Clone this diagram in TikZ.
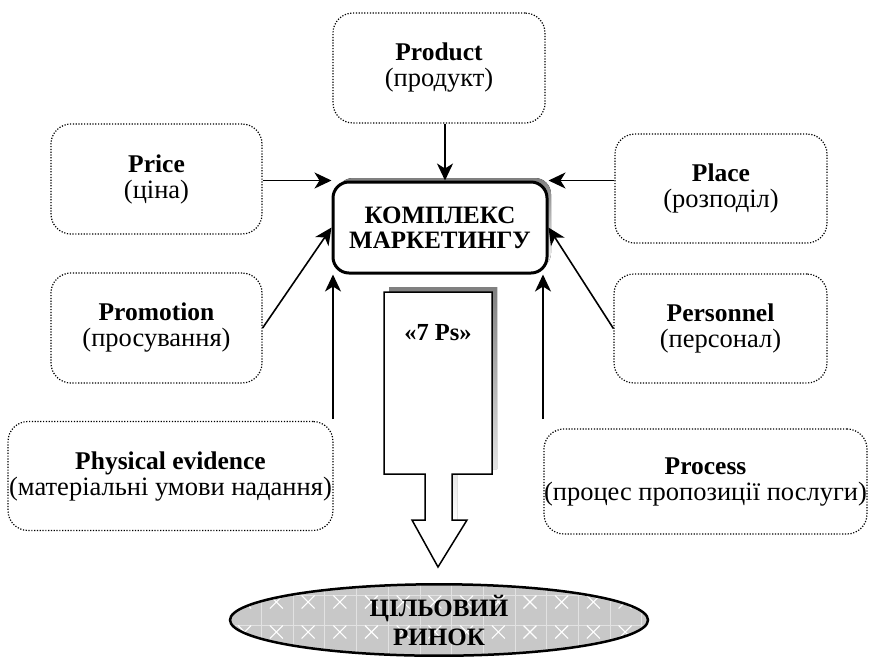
\documentclass[tikz,border=0pt]{standalone}
\usepackage{fontspec}
\setmainfont{Liberation Serif}
\usetikzlibrary{arrows.meta,shapes.geometric}
\definecolor{shade}{HTML}{808080}
\definecolor{market}{HTML}{C8C8C8}
\definecolor{grid}{HTML}{E2E2E2}
\newcommand{\pname}[1]{{\fontsize{25.5}{26}\selectfont\bfseries #1}}

\begin{document}
\begin{tikzpicture}[x=1pt,y=-1pt,>={Stealth[length=17pt,width=16pt,inset=5pt]}]
  \tikzstyle{fact}=[rectangle,rounded corners=20pt,draw=black,line width=1.2pt,dash pattern=on 1.2pt off 1.6pt,align=center,inner sep=0pt,font=\fontsize{26.5}{26}\selectfont]
  \tikzstyle{core}=[rectangle,rounded corners=16pt,draw=black,line width=3pt,fill=white,align=center,font=\fontsize{25}{25}\selectfont\bfseries]
  \tikzstyle{link}=[->,line width=1.6pt]

  \useasboundingbox (0,0) rectangle (869,657);

  % the seven Ps
  \node[fact,minimum width=212pt,minimum height=110pt](prod) at (439,68) {\pname{Product}\\(продукт)};
  \node[fact,minimum width=211pt,minimum height=110pt](price) at (156.5,179) {\pname{Price}\\(ціна)};
  \node[fact,minimum width=212pt,minimum height=109pt](place) at (721,188.5) {\pname{Place}\\(розподіл)};
  \node[fact,minimum width=211pt,minimum height=110pt](promo) at (156.5,328) {\pname{Promotion}\\(просування)};
  \node[fact,minimum width=213pt,minimum height=109pt](pers) at (720.5,328.5) {\pname{Personnel}\\(персонал)};
  \node[fact,minimum width=325pt,minimum height=109pt](phys) at (170.5,476) {\pname{Physical evidence}\\(матеріальні умови надання)};
  \node[fact,minimum width=319pt,minimum height=105pt](proc) at (705.5,481.5) {\pname{Process}\\(процес пропозиції послуги)};

  % centre
  \fill[shade,rounded corners=16pt] (337,178) rectangle (551,269);
  \node[core,minimum width=214pt,minimum height=91pt](kompl) at (440,227.5) {КОМПЛЕКС\\МАРКЕТИНГУ};

  \coordinate (lt) at (333,419);
  \coordinate (rt) at (543,419);

  \path[link]
  ([xshift=6pt]prod.south) edge ([xshift=5pt]kompl.north)
  (price.east |- kompl.north west) edge (kompl.north west)
  (place.west |- kompl.north east) edge (kompl.north east)
  (promo.east) edge (kompl.west)
  (pers.west) edge (kompl.east)
  (lt) edge (lt |- kompl.south)
  (rt) edge (rt |- kompl.south);

  % block arrow
  \fill[shade] (389,287) -- (497,287) -- (497,469) -- (457,469) -- (457,520) -- (430,520) -- (430,469) -- (389,469) -- cycle;
  \draw[line width=1.5pt,fill=white] (384,292) -- (492,292) -- (492,474) -- (452,474) -- (452,520) -- (467,520)
    -- (438,567) -- (412,520) -- (425,520) -- (425,474) -- (384,474) -- cycle;
  \node[font=\fontsize{24.5}{25}\selectfont\bfseries](ps) at (438,333) {«7 Ps»};

  % target market
  \fill[market] (439,620) ellipse [x radius=209, y radius=35];
  \begin{scope}
    \clip (439,620) ellipse [x radius=209, y radius=35];
    \foreach \i in {0,...,15}
      \draw[grid,line width=0.8pt] (198+31.7*\i,580) -- (198+31.7*\i,660);
    \foreach \j in {595,625,655}
      \draw[grid,line width=0.8pt] (220,\j) -- (660,\j);
    \foreach \i in {0,...,14}
      \foreach \j in {572,602,632}
        \draw[white,line width=1.1pt] (206.5+31.7*\i,\j-6.5) -- ++(13,13) (219.5+31.7*\i,\j-6.5) -- ++(-13,13);
  \end{scope}
  \node[ellipse,draw=black,line width=2.5pt,minimum width=418pt,minimum height=70pt,inner sep=0pt,align=center,
    font=\fontsize{25}{25}\selectfont\bfseries](rynok) at (439,620) {ЦІЛЬОВИЙ\\[4pt]РИНОК};
\end{tikzpicture}
\end{document}
